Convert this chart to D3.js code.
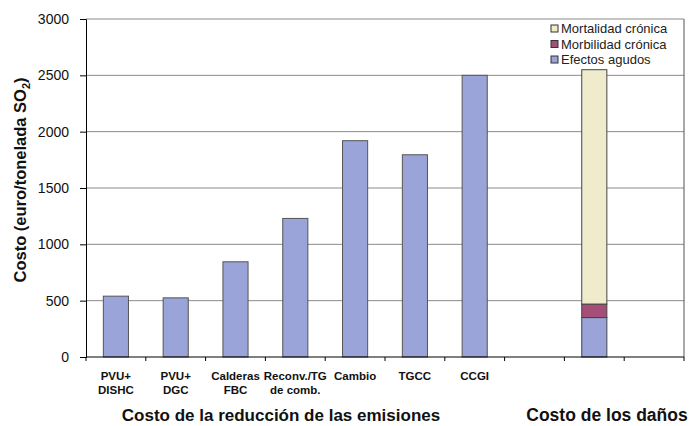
<!DOCTYPE html>
<html><head><meta charset="utf-8">
<script src="https://cdn.jsdelivr.net/npm/d3@7"></script>
<style>body{margin:0;background:#fff}svg{display:block;font-family:"Liberation Sans",Arial,sans-serif}</style>
</head><body><svg id="c" width="693" height="426"></svg>
<script>
// Data
const slots = ["s1","s2","s3","s4","s5","s6","s7","s8","s9","s10"];
const categoryLabels = [["PVU+","DISHC"],["PVU+","DGC"],["Calderas","FBC"],["Reconv./TG","de comb."],["Cambio"],["TGCC"],["CCGI"],[],[],[]];
const abatementValues = [540, 525, 845, 1230, 1920, 1795, 2500, null, null, null];
const damageSlot = "s9";
const damageSeries = ["Efectos agudos","Morbilidad crónica","Mortalidad crónica"];
const damageValues = [350, 120, 2080];
const yTicks = [0, 500, 1000, 1500, 2000, 2500, 3000];
const groupLabels = ["Costo de la reducción de las emisiones", "Costo de los daños"];

const colors = {"Efectos agudos":"#9aa4d8","Morbilidad crónica":"#a44e78","Mortalidad crónica":"#f1ebcd"};

const svg = d3.select("#c");
const L = 86, R = 684, T = 19, B = 357;
const x = d3.scaleBand().domain(slots).range([L, R]).paddingInner(0.58).paddingOuter(0.29);
const y = d3.scaleLinear().domain([0, 3000]).range([B, T]);

// gridlines
svg.append("g").selectAll("line").data(yTicks.filter(d => d > 0)).join("line")
  .attr("x1", L).attr("x2", R).attr("y1", d => y(d)).attr("y2", d => y(d))
  .attr("stroke", "#8a8a8a").attr("stroke-width", 1);
// right border
svg.append("line").attr("x1", R).attr("x2", R).attr("y1", T).attr("y2", B)
  .attr("stroke", "#555").attr("stroke-width", 1);

// abatement bars
svg.append("g").selectAll("rect").data(slots.map((s, i) => ({s, v: abatementValues[i]})).filter(d => d.v != null))
  .join("rect")
  .attr("x", d => x(d.s)).attr("width", x.bandwidth())
  .attr("y", d => y(d.v)).attr("height", d => y(0) - y(d.v))
  .attr("fill", colors["Efectos agudos"]).attr("stroke", "#555").attr("stroke-width", 1);

// stacked damage bar
let cum = 0;
const stackData = damageSeries.map((k, i) => { const d = {k, y0: cum, y1: cum + damageValues[i]}; cum += damageValues[i]; return d; });
svg.append("g").selectAll("rect").data(stackData).join("rect")
  .attr("x", x(damageSlot)).attr("width", x.bandwidth())
  .attr("y", d => y(d.y1)).attr("height", d => y(d.y0) - y(d.y1))
  .attr("fill", d => colors[d.k]).attr("stroke", "#444").attr("stroke-width", 1);

// y axis
const yAxis = svg.append("g").attr("transform", `translate(${L},0)`)
  .call(d3.axisLeft(y).tickValues(yTicks).tickSize(6).tickPadding(11).tickFormat(d3.format("d")));
yAxis.select(".domain").attr("stroke", "#000");
yAxis.selectAll(".tick line").attr("stroke", "#000");
yAxis.selectAll("text").attr("font-size", 14).attr("fill", "#111").attr("font-family", "Liberation Sans, Arial");

// x axis with ticks at slot boundaries
const xAxisG = svg.append("g").attr("transform", `translate(0,${B})`);
xAxisG.append("line").attr("x1", L).attr("x2", R).attr("stroke", "#000");
const bounds = slots.map(s => x(s) - x.step() * 0.29).concat([R]);
xAxisG.selectAll("line.t").data(bounds).join("line").attr("class", "t")
  .attr("x1", d => d).attr("x2", d => d).attr("y1", 0).attr("y2", 4).attr("stroke", "#000");

// category labels
const catG = svg.append("g");
slots.forEach((s, i) => {
  const t = catG.append("text").attr("x", x(s) + x.bandwidth() / 2).attr("y", B + 23)
    .attr("text-anchor", "middle").attr("font-size", 11.5).attr("font-weight", "bold").attr("fill", "#111");
  categoryLabels[i].forEach((ln, j) => t.append("tspan").attr("x", x(s) + x.bandwidth() / 2).attr("dy", j ? 14 : 0).text(ln));
});

// group labels
svg.append("text").attr("x", 281).attr("y", 421).attr("text-anchor", "middle")
  .attr("font-size", 17).attr("font-weight", "bold").attr("fill", "#111").text(groupLabels[0]);
svg.append("text").attr("x", 607).attr("y", 421).attr("text-anchor", "middle")
  .attr("font-size", 17.5).attr("font-weight", "bold").attr("fill", "#111").text(groupLabels[1]);

// y axis title
const yt = svg.append("text").attr("transform", "translate(26,180) rotate(-90)").attr("text-anchor", "middle")
  .attr("font-size", 16.5).attr("font-weight", "bold").attr("fill", "#111");
yt.append("tspan").text("Costo (euro/tonelada SO");
yt.append("tspan").attr("font-size", 11).attr("dy", 4).text("2");
yt.append("tspan").attr("dy", -4).text(")");

// legend
const legendItems = damageSeries.slice().reverse();
const lg = svg.append("g").attr("transform", "translate(551,25)");
legendItems.forEach((k, i) => {
  lg.append("rect").attr("x", 0).attr("y", i * 15.5).attr("width", 7).attr("height", 7)
    .attr("fill", colors[k]).attr("stroke", "#333").attr("stroke-width", 1);
  lg.append("text").attr("x", 10).attr("y", i * 15.5 + 8).attr("font-size", 13).attr("fill", "#222").text(k);
});
</script></body></html>
